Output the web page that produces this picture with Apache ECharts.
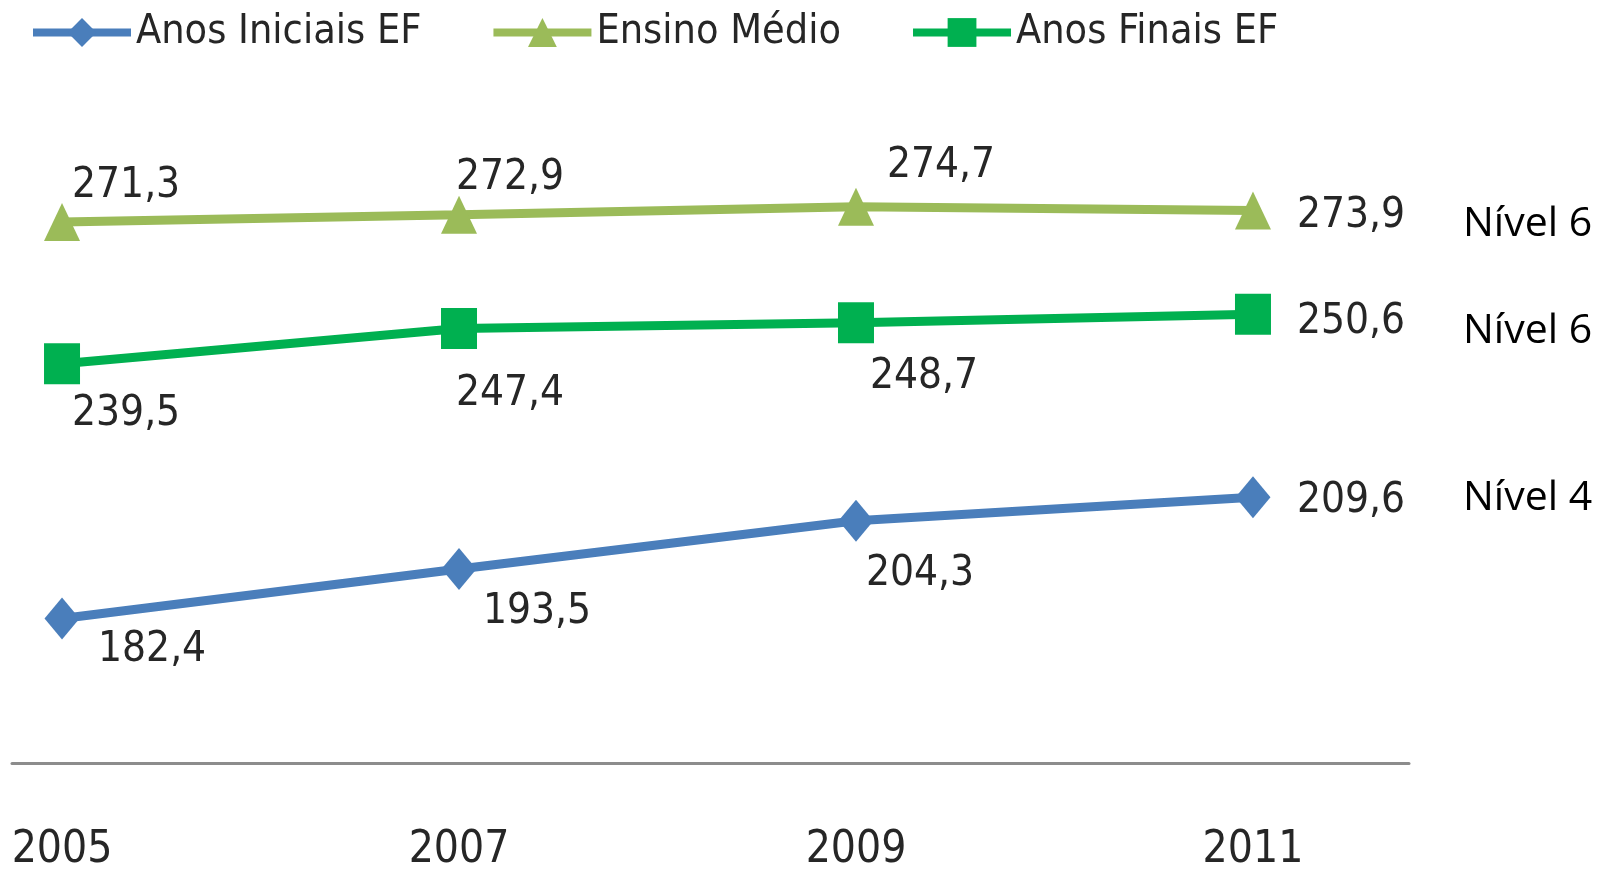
<!DOCTYPE html>
<html>
<head>
<meta charset="utf-8">
<script src="https://cdn.jsdelivr.net/npm/echarts@6/dist/echarts.min.js"></script>
<style>
  html, body { margin: 0; padding: 0; background: #fff; }
  #chart { width: 1613px; height: 869px; }
</style>
</head>
<body>
<div id="chart"></div>
<script>
// dados (proficiência média por etapa)
const years = [2005, 2007, 2009, 2011]
const anosIniciais = [182.4, 193.5, 204.3, 209.6]
const ensinoMedio = [271.3, 272.9, 274.7, 273.9]
const anosFinais = [239.5, 247.4, 248.7, 250.6]
const seriesNames = ['Anos Iniciais EF', 'Ensino Médio', 'Anos Finais EF']
const niveis = ['Nível 4', 'Nível 6', 'Nível 6']

// deslocamento dos rótulos [dx, dy] em relação ao ponto
const offsIniciais = [[36, 32], [24, 43], [10, 53], [44, 4]]
const offsMedio = [[10, -36], [-3, -37], [31, -41], [44, 6]]
const offsFinais = [[10, 50], [-3, 65], [14, 54], [44, 8]]
const nivelOffs = [[210, 1], [210, 14], [210, 17]]

const fmt = v => v.toFixed(1).replace('.', ',')

const condFont = "'DejaVu Sans Condensed', 'Liberation Sans', sans-serif"

const labelFont = {
  fontFamily: condFont,
  fontSize: 42,
  color: '#262626'
}

const buildData = (values, offs) =>
  values.map((v, i) => ({
    value: [years[i], v],
    label: { offset: offs[i] }
  }))

const nivelMark = (values, idx) => ({
  silent: true,
  symbol: 'rect',
  symbolSize: 1,
  itemStyle: { color: 'rgba(0,0,0,0)' },
  label: {
    show: true,
    position: 'inside',
    align: 'left',
    verticalAlign: 'middle',
    offset: nivelOffs[idx],
    fontFamily: 'Open Sans',
    fontSize: 41,
    color: '#000',
    formatter: niveis[idx]
  },
  data: [{ coord: [years[years.length - 1], values[values.length - 1]] }]
})

const makeSeries = (name, values, offs, color, symbol, symbolSize, idx) => ({
  name: name,
  type: 'line',
  data: buildData(values, offs),
  symbol: symbol,
  symbolSize: symbolSize,
  showAllSymbol: true,
  lineStyle: { color: color, width: 9 },
  itemStyle: { color: color },
  label: {
    show: true,
    position: 'inside',
    align: 'left',
    verticalAlign: 'middle',
    formatter: p => fmt(p.value[1]),
    ...labelFont
  },
  markPoint: nivelMark(values, idx),
  z: 2
})

const chart = echarts.init(document.getElementById('chart'))

const option = {
  animation: false,
  backgroundColor: '#fff',
  legend: {
    left: 24,
    top: 7,
    itemWidth: 98,
    itemHeight: 36,
    itemGap: 68,
    lineStyle: { width: 8 },
    textStyle: {
      fontFamily: condFont,
      fontSize: 41,
      color: '#262626'
    },
    data: seriesNames
  },
  grid: {
    left: 12,
    right: 204,
    top: 94,
    bottom: 106,
    outerBoundsMode: 'none'
  },
  xAxis: {
    type: 'value',
    min: 2004.748,
    max: 2011.786,
    axisLine: { show: true, lineStyle: { color: '#8c8c8c', width: 3 } },
    axisTick: { show: false },
    splitLine: { show: false },
    axisLabel: {
      customValues: years,
      margin: 66,
      fontFamily: condFont,
      fontSize: 44,
      color: '#262626',
      formatter: v => String(v)
    }
  },
  yAxis: {
    type: 'value',
    min: 150,
    max: 300,
    show: false,
    splitLine: { show: false }
  },
  series: [
    makeSeries(seriesNames[0], anosIniciais, offsIniciais, '#4A7EBB', 'diamond', [35, 42], 0),
    makeSeries(seriesNames[1], ensinoMedio, offsMedio, '#9BBB59', 'triangle', [36, 38], 1),
    makeSeries(seriesNames[2], anosFinais, offsFinais, '#00B050', 'rect', [36, 41], 2)
  ]
}

chart.setOption(option)
</script>
</body>
</html>
